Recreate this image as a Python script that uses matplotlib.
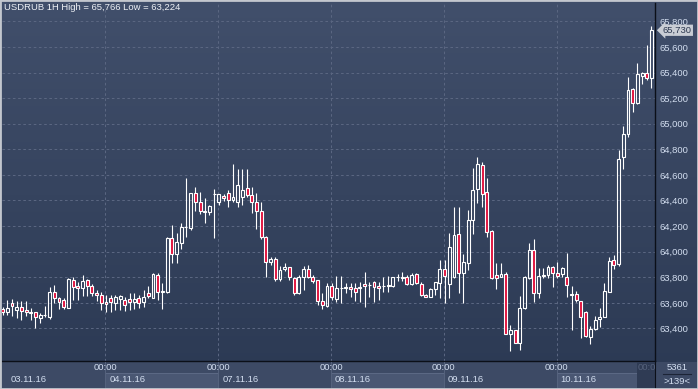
import numpy as np
import matplotlib
matplotlib.use('Agg')
import matplotlib.pyplot as plt
from matplotlib.patches import Rectangle
from matplotlib.colors import LinearSegmentedColormap
from matplotlib.transforms import blended_transform_factory

plt.rcParams['font.family'] = ['Liberation Sans', 'DejaVu Sans']

# chart data (USDRUB, hourly candles)
symbol = 'USDRUB'
timeframe = '1H'
day_labels = ['03.11.16', '04.11.16', '07.11.16', '08.11.16', '09.11.16', '10.11.16']
day_counts = [22, 24, 24, 24, 24, 21]
price_ticks = list(range(63400, 65801, 200))
bars_total = 5361
bars_visible = 139

opens = [63550, 63526, 63596, 63547, 63565, 63542, 63524, 63526, 63485, 63503,
         63492, 63688, 63636, 63620, 63563, 63779, 63732, 63714, 63779, 63729,
         63680, 63662, 63607, 63638, 63602, 63628, 63623, 63630, 63607, 63636,
         63610, 63675, 63641, 63818, 63682, 63688, 64104, 63979, 64065, 64190,
         64188, 64456, 64386, 64321, 64308, 64448, 64391, 64438, 64461, 64404,
         64391, 64430, 64495, 64443, 64386, 64318, 64112, 63917, 63940, 63784,
         63865, 63878, 63797, 63675, 63800, 63865, 63800, 63779, 63617, 63578,
         63732, 63628, 63714, 63719, 63727, 63714, 63717, 63748, 63737, 63761,
         63732, 63730, 63732, 63732, 63800, 63792, 63805, 63745, 63823, 63745,
         63662, 63644, 63709, 63758, 63862, 63745, 63805, 64136, 63831, 63909,
         64248, 64487, 64677, 64464, 64162, 63818, 63805, 63823, 63357, 63386,
         63289, 63557, 63797, 64013, 63675, 63810, 63818, 63878, 63831, 63823,
         63805, 63662, 63667, 63615, 63531, 63336, 63393, 63477, 63487, 63682,
         63935, 63901, 64742, 64917, 65271, 65159, 65375, 65393, 65354]
highs = [63570, 63623, 63630, 63617, 63612, 63612, 63563, 63531, 63518, 63573,
         63721, 63740, 63649, 63638, 63792, 63805, 63766, 63818, 63787, 63748,
         63701, 63688, 63662, 63662, 63664, 63664, 63649, 63675, 63675, 63664,
         63701, 63729, 63831, 63831, 63753, 64112, 64209, 64143, 64222, 64573,
         64460, 64503, 64464, 64417, 64365, 64490, 64450, 64448, 64482, 64685,
         64646, 64646, 64646, 64503, 64461, 64391, 64123, 63956, 63956, 63888,
         63909, 63883, 63805, 63818, 63891, 63896, 63818, 63779, 63675, 63753,
         63753, 63810, 63810, 63753, 63758, 63758, 63766, 63844, 63766, 63774,
         63766, 63805, 63810, 63805, 63826, 63844, 63818, 63831, 63831, 63766,
         63670, 63714, 63766, 63935, 63935, 64143, 64352, 64352, 63982, 64326,
         64651, 64742, 64703, 64573, 64167, 63909, 63909, 63844, 63427, 63386,
         63654, 63810, 64071, 64097, 63870, 63870, 63896, 63888, 63917, 63878,
         63987, 63732, 63693, 63615, 63537, 63419, 63497, 63563, 63753, 63956,
         63974, 64794, 64982, 65367, 65281, 65471, 65406, 65615, 65766]
lows = [63505, 63505, 63500, 63485, 63466, 63500, 63466, 63406, 63440, 63492,
        63477, 63596, 63555, 63552, 63563, 63623, 63623, 63656, 63654, 63651,
        63617, 63544, 63531, 63526, 63544, 63547, 63539, 63544, 63550, 63563,
        63570, 63641, 63641, 63623, 63552, 63680, 63909, 63909, 64021, 64117,
        64170, 64321, 64295, 64227, 64284, 64110, 64365, 64399, 64347, 64391,
        64347, 64365, 64430, 64305, 64175, 64097, 63805, 63896, 63771, 63771,
        63846, 63779, 63659, 63667, 63701, 63792, 63753, 63584, 63550, 63570,
        63623, 63610, 63602, 63675, 63649, 63617, 63610, 63566, 63649, 63610,
        63623, 63688, 63688, 63727, 63774, 63774, 63740, 63740, 63745, 63657,
        63644, 63644, 63662, 63640, 63597, 63636, 63792, 63680, 63597, 63857,
        64136, 64383, 64352, 64112, 63787, 63706, 63800, 63357, 63224, 63284,
        63230, 63550, 63784, 63610, 63636, 63797, 63797, 63727, 63797, 63805,
        63649, 63388, 63610, 63328, 63336, 63276, 63388, 63414, 63487, 63682,
        63862, 63888, 64643, 64899, 65094, 65151, 65307, 65341, 65276]
closes = [63529, 63560, 63573, 63565, 63539, 63526, 63521, 63487, 63503, 63505,
          63688, 63636, 63610, 63565, 63787, 63727, 63714, 63771, 63729, 63675,
          63659, 63602, 63591, 63610, 63649, 63651, 63586, 63604, 63630, 63602,
          63649, 63654, 63823, 63688, 63693, 64104, 63979, 64073, 64190, 64196,
          64456, 64386, 64321, 64308, 64357, 64451, 64448, 64422, 64404, 64430,
          64521, 64482, 64443, 64386, 64321, 64117, 63917, 63940, 63784, 63857,
          63878, 63802, 63680, 63805, 63865, 63800, 63774, 63617, 63584, 63732,
          63649, 63714, 63717, 63722, 63706, 63688, 63719, 63732, 63740, 63722,
          63714, 63732, 63735, 63800, 63805, 63805, 63745, 63818, 63753, 63662,
          63648, 63709, 63761, 63867, 63810, 64039, 64130, 63831, 63917, 64248,
          64482, 64685, 64448, 64151, 63792, 63792, 63823, 63357, 63386, 63289,
          63557, 63805, 64013, 63680, 63810, 63812, 63878, 63831, 63810, 63870,
          63737, 63664, 63623, 63487, 63341, 63393, 63466, 63492, 63693, 63927,
          63896, 64724, 64917, 65263, 65159, 65385, 65393, 65354, 65730]

W, H = 698, 389
fig = plt.figure(figsize=(W / 100, H / 100), dpi=100)


def fx(px):
    return px / W


def fy(py):
    return 1 - py / H


# background gradient
bg = fig.add_axes([0, 0, 1, 1], zorder=-5)
grad_cmap = LinearSegmentedColormap.from_list('bg', ['#2b3953', '#414f6b'])
grad = np.linspace(0, 1, 256).reshape(-1, 1)
bg.imshow(grad, extent=[0, 1, 0, 1], aspect='auto', cmap=grad_cmap, origin='lower')
bg.set_xlim(0, 1)
bg.set_ylim(0, 1)
bg.axis('off')

# main axes
ax = fig.add_axes([fx(2), fy(361), fx(655) - fx(2), fy(3) - fy(361)])
ax.patch.set_alpha(0)
n = len(opens)
ax.set_xlim(-0.12, n - 0.25)
ax.set_ylim(63146, 65943)

for s in ['left', 'top']:
    ax.spines[s].set_visible(False)
for s in ['right', 'bottom']:
    ax.spines[s].set_color('#0b0f18')
    ax.spines[s].set_linewidth(1.0)

ax.set_xticks([])
ax.yaxis.tick_right()
ax.set_yticks(price_ticks)
ax.set_yticklabels([f'{v:,}' for v in price_ticks])
ax.tick_params(axis='y', length=0, pad=3, labelsize=6.8, labelcolor='#d3def0')

grid_kw = dict(color='#5a6681', lw=0.75, ls=(0, (2.5, 2.5)), zorder=1)
for v in price_ticks:
    ax.axhline(v, **grid_kw)
bounds = np.cumsum(day_counts)[:-1] - 0.15
for b in bounds:
    ax.axvline(b, **grid_kw)

# candles
idx = np.arange(n)
o = np.array(opens)
c = np.array(closes)
hi = np.array(highs)
lo = np.array(lows)
top = np.maximum(o, c)
bot = np.minimum(o, c)
ax.vlines(idx, top, hi, color='white', lw=0.8, zorder=3)
ax.vlines(idx, lo, bot, color='white', lw=0.8, zorder=3)
face = ['#e0103c' if cc < oo else 'none' for oo, cc in zip(o, c)]
ax.bar(idx, np.maximum(top - bot, 4), bottom=bot, width=0.62, color=face,
       edgecolor='white', linewidth=0.8, zorder=4)

# title
fig.text(fx(4), fy(8), f'{symbol} {timeframe} High = {max(highs):,} Low = {min(lows):,}',
         color='#eef1f6', fontsize=6.8, va='center', ha='left')

# last price label
tr = blended_transform_factory(ax.transAxes, ax.transData)
ax.text(1.012, closes[-1], f'{closes[-1]:,}', transform=tr, fontsize=6.8,
        color='#2c3850', va='center', ha='left', clip_on=False, zorder=6,
        bbox=dict(boxstyle='larrow,pad=0.12', fc='#c9cdd5', ec='none'))

# bottom time band
fig.patches.append(Rectangle((0, 0), fx(655), fy(362), transform=fig.transFigure,
                             fc='#3d4a65', ec='none', zorder=-1))
edges_px = [2] + [2 + (b + 0.12) * 4.702 for b in bounds] + [655]
for i, lab in enumerate(day_labels):
    x0, x1 = edges_px[i], edges_px[i + 1]
    if i % 2 == 1:
        fig.patches.append(Rectangle((fx(x0), fy(388)), fx(x1 - x0), fy(373) - fy(388),
                                     transform=fig.transFigure, fc='#4a5773',
                                     ec='#5c6985', lw=0.7, zorder=0))
    xt = 11 if i == 0 else x0 + 4
    fig.text(fx(xt), fy(380), lab, color='#d3def0', fontsize=6.8, va='center', ha='left')
    if i > 0:
        fig.text(fx(x0), fy(368), '00:00', color='#d3def0', fontsize=6.8,
                 va='center', ha='center')
        fig.lines.append(plt.Line2D([fx(x0), fx(x0)], [fy(388), fy(362)],
                                    transform=fig.transFigure, color='#55627d', lw=0.7))

# scroll stub at right end of the time band
fig.patches.append(Rectangle((fx(637), fy(388)), fx(18), fy(362) - fy(388),
                             transform=fig.transFigure, fc='#2f3b54', ec='none', zorder=1))
fig.text(fx(638), fy(368), '00:0', color='#56627c', fontsize=6.8, va='center', ha='left')

# corner panel
fig.patches.append(Rectangle((fx(655), 0), fx(43), fy(362), transform=fig.transFigure,
                             fc='#3d4a65', ec='none', zorder=-1))
fig.text(fx(677), fy(368), f'{bars_total}', color='#d3def0', fontsize=6.8,
         va='center', ha='center')
fig.lines.append(plt.Line2D([fx(663), fx(691)], [fy(374), fy(374)],
                            transform=fig.transFigure, color='#1c2436', lw=0.8))
fig.text(fx(677), fy(382), f'>{bars_visible}<', color='#d3def0', fontsize=6.8,
         va='center', ha='center')
fig.lines.append(plt.Line2D([fx(655), fx(655)], [0, fy(361)],
                            transform=fig.transFigure, color='#0b0f18', lw=0.8))

# light frame around the widget
fig.patches.append(Rectangle((0, 0), 1, 1, transform=fig.transFigure, fc='none',
                             ec='#c3c7ce', lw=2.0, zorder=10))

fig.savefig('out.png', dpi=100)
